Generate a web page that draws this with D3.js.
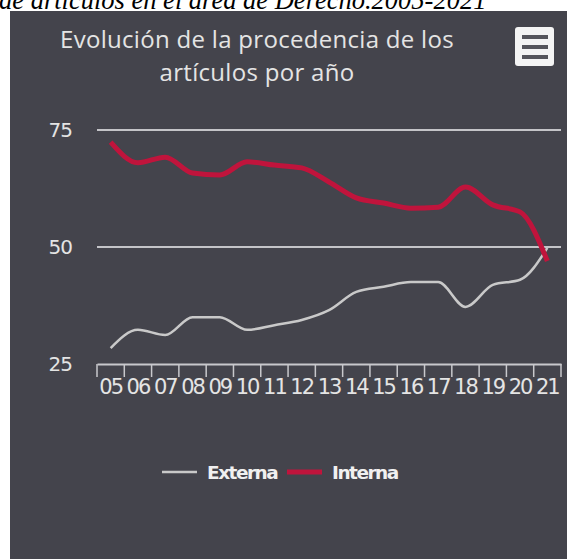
<!DOCTYPE html>
<html>
<head>
<meta charset="utf-8">
<script src="https://cdn.jsdelivr.net/npm/d3@7"></script>
<style>
  body { margin: 0; background: #fff; }
  svg { display: block; }
</style>
</head>
<body>
<svg width="567" height="559"></svg>
<script>
// data
const years = ["05","06","07","08","09","10","11","12","13","14","15","16","17","18","19","20","21"];
const externa = [28.4, 32.3, 31.2, 35.0, 35.0, 32.3, 33.3, 34.4, 36.5, 40.4, 41.5, 42.5, 42.5, 37.2, 41.9, 43.0, 49.8];
const interna = [72.4, 68.0, 69.2, 65.8, 65.4, 68.2, 67.5, 66.9, 63.9, 60.5, 59.4, 58.3, 58.5, 62.8, 59.0, 57.5, 47.0];
const yTicks = [25, 50, 75];
const seriesNames = ["Externa", "Interna"];

const bg = "#44444c";
const textColor = "#e4e4e4";
const externaColor = "#c9c9c9";
const internaColor = "#c0143c";
const font = "'DejaVu Sans', sans-serif";

let svg = d3.select("svg");

// caption cut at the top of the image
svg.append("text")
    .attr("x", -1)
    .attr("y", 9)
    .attr("font-family", "'Liberation Serif', serif")
    .attr("font-style", "italic")
    .attr("font-size", 26.5)
    .attr("fill", "#000")
    .text("de artículos en el área de Derecho.2005-2021");

// chart panel
svg.append("rect")
    .attr("x", 10).attr("y", 11)
    .attr("width", 557).attr("height", 548)
    .attr("fill", bg);

// title
const title = svg.append("text")
    .attr("text-anchor", "middle")
    .attr("font-family", "'Open Sans', sans-serif")
    .attr("font-size", 24)
    .attr("letter-spacing", 0.3)
    .attr("fill", textColor);
title.append("tspan").attr("x", 257).attr("y", 48).text("Evolución de la procedencia de los");
title.append("tspan").attr("x", 257).attr("y", 81).text("artículos por año");

// menu button
svg.append("rect")
    .attr("x", 515).attr("y", 27)
    .attr("width", 39).attr("height", 39)
    .attr("rx", 3)
    .attr("fill", "#f4f4f4");
[35, 45, 55].forEach(yy => {
    svg.append("rect")
        .attr("x", 522).attr("y", yy)
        .attr("width", 26).attr("height", 4)
        .attr("fill", "#55555c");
});

// scales
const left = 97, right = 561;
let x = d3.scaleBand().domain(years).range([left, right]).padding(0);
let y = d3.scaleLinear().domain([25, 75]).range([364, 130]);
const cx = d => x(d) + x.bandwidth() / 2;

// grid lines
svg.append("g")
    .attr("class", "grid")
    .selectAll("line")
    .data(yTicks.filter(d => d > 25))
    .enter().append("line")
    .attr("x1", left).attr("x2", right)
    .attr("y1", d => y(d)).attr("y2", d => y(d))
    .attr("stroke", "#c4c4c8")
    .attr("stroke-width", 2);

// y labels
svg.append("g")
    .selectAll("text")
    .data(yTicks)
    .enter().append("text")
    .attr("x", 72)
    .attr("y", d => y(d) + 7)
    .attr("text-anchor", "end")
    .attr("font-family", font)
    .attr("font-size", 20)
    .attr("letter-spacing", -1)
    .attr("fill", textColor)
    .text(d => d);

// x axis, ticks between categories
let xAxis = svg.append("g")
    .attr("transform", "translate(0," + y(25) + ")")
    .call(d3.axisBottom(x).tickSize(0).tickPadding(15));
xAxis.select(".domain").attr("stroke", "#c8c8cc").attr("stroke-width", 2);
xAxis.selectAll("text")
    .attr("font-family", font)
    .attr("font-size", 21)
    .attr("letter-spacing", -2)
    .attr("fill", textColor);
xAxis.selectAll(".edge")
    .data(years.map(d => x(d)).concat([right]))
    .enter().append("line")
    .attr("class", "edge")
    .attr("x1", d => d).attr("x2", d => d)
    .attr("y1", 0).attr("y2", 13)
    .attr("stroke", "#c8c8cc")
    .attr("stroke-width", 1.5);

// lines
const line = d3.line()
    .x((d, i) => cx(years[i]))
    .y(d => y(d))
    .curve(d3.curveMonotoneX);

svg.append("path")
    .datum(externa)
    .attr("fill", "none")
    .attr("stroke", externaColor)
    .attr("stroke-width", 2.5)
    .attr("d", line);

svg.append("path")
    .datum(interna)
    .attr("fill", "none")
    .attr("stroke", internaColor)
    .attr("stroke-width", 5)
    .attr("stroke-linejoin", "round")
    .attr("d", line);

// legend
const legend = svg.append("g").attr("transform", "translate(0,472)");
const legendItems = [
    {name: seriesNames[0], x: 162, color: externaColor, w: 2.5},
    {name: seriesNames[1], x: 287, color: internaColor, w: 5}
];
legendItems.forEach(it => {
    legend.append("line")
        .attr("x1", it.x).attr("x2", it.x + 35)
        .attr("y1", 0).attr("y2", 0)
        .attr("stroke", it.color)
        .attr("stroke-width", it.w);
    legend.append("text")
        .attr("x", it.x + 45)
        .attr("y", 7)
        .attr("font-family", font)
        .attr("font-weight", "bold")
        .attr("font-size", 18.5)
        .attr("letter-spacing", -1.5)
        .attr("fill", "#f0f0f0")
        .text(it.name);
});
</script>
</body>
</html>
